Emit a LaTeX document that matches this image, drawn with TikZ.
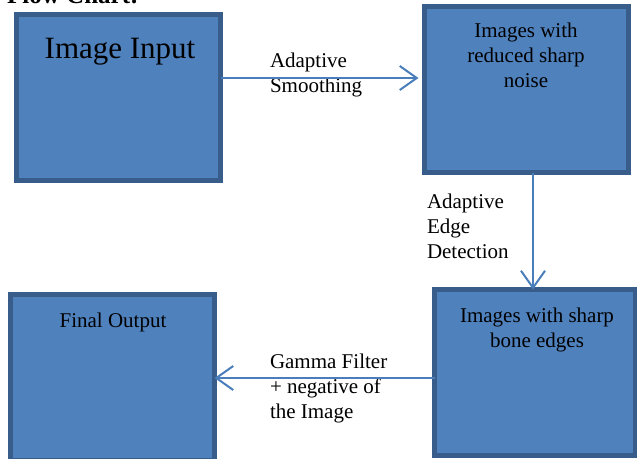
\documentclass[tikz,border=0pt]{standalone}
\usepackage{fontspec}
\setmainfont{Liberation Serif}
\usetikzlibrary{arrows.meta}
\definecolor{boxfill}{HTML}{4F81BD}
\definecolor{boxline}{HTML}{385D8A}
\definecolor{arrowcol}{HTML}{4A7EBB}
\begin{document}
\begin{tikzpicture}[x=1pt,y=-1pt,
  box/.style={draw=boxline,fill=boxfill,line width=5pt,rectangle,inner sep=0pt,outer sep=0pt,
    minimum width=204pt,minimum height=166pt},
  txt/.style={inner sep=0pt,outer sep=0pt,font=\fontsize{21}{24.6}\selectfont},
  conn/.style={draw=arrowcol,line width=2pt,-{Straight Barb[length=17pt,width=24pt,line width=2pt]}}
]
\useasboundingbox (0,0) rectangle (637,458);
% top cut-off title
\node[inner sep=0pt,anchor=base west,font=\fontsize{25}{28}\selectfont\bfseries] (title) at (7,3.5) {Flow Chart:};
% boxes
\node[box] (in) at (118.5,97.5) {};
\node[box] (noise) at (526.5,89.5) {};
\node[box,minimum width=201pt] (edges) at (535,372.5) {};
\node[box] (out) at (112.5,377.5) {};
% box texts (anchor = baseline of last line)
\node[txt,anchor=base,font=\fontsize{31}{34}\selectfont] (tin) at (120,58) {Image Input};
\node[txt,anchor=base,align=center] (tnoise) at (526,87) {Images with\\reduced sharp\\noise};
\node[txt,anchor=base,align=center] (tedges) at (537,347) {Images with sharp\\bone edges};
\node[txt,anchor=base] (tout) at (113,327) {Final Output};
% connector labels
\node[txt,anchor=base west,align=left] (l1) at (270,92) {Adaptive\\Smoothing};
\node[txt,anchor=base west,align=left] (l2) at (427,258) {Adaptive\\Edge\\Detection};
\node[txt,anchor=base west,align=left] (l3) at (270,418) {Gamma Filter\\+ negative of\\the Image};
% connectors
\coordinate (y1) at (0,78);
\coordinate (x2) at (533,0);
\coordinate (y3) at (0,378);
\draw[conn,shorten >=6pt] (in.east |- y1) -- (noise.west |- y1);
\draw[conn] (noise.south -| x2) -- (edges.north -| x2);
\draw[conn] (edges.west |- y3) -- (out.east |- y3);
\end{tikzpicture}
\end{document}
